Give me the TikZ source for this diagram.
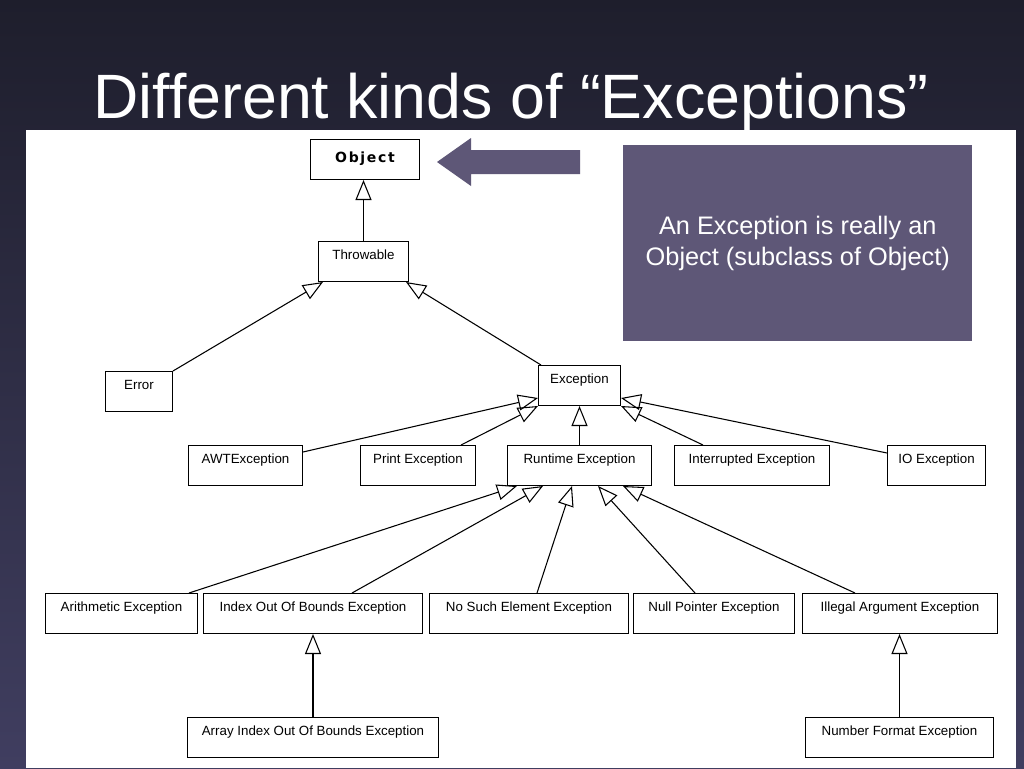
\documentclass[tikz,border=0pt]{standalone}
\usepackage{fontspec}
\setmainfont{Liberation Sans}
\newfontfamily\objfont[LetterSpace=12]{DejaVu Sans}
\usetikzlibrary{arrows.meta,calc}
\definecolor{bgtop}{HTML}{1E1E2C}
\definecolor{bgbot}{HTML}{403E60}
\definecolor{pcol}{HTML}{5E5777}
\begin{document}
\begin{tikzpicture}[x=0.75pt,y=-0.75pt,
  cls/.style={draw=black, line width=0.75pt, fill=white, inner xsep=0pt, inner ysep=0pt,
    text height=13.5pt, text depth=16.5pt, font=\fontsize{10pt}{12pt}\selectfont, anchor=north west},
  gen/.style={draw=black, line width=0.8pt, -{Triangle[open, length=15pt, width=12pt]}},
  note/.style={fill=pcol, text=white, align=center, anchor=north west, inner sep=0pt,
    font=\fontsize{19pt}{23pt}\selectfont},
  titlestyle/.style={anchor=base, text=white, font=\fontsize{47pt}{56pt}\selectfont}]
\useasboundingbox (0,0) rectangle (1024,768);
\shade[top color=bgtop, bottom color=bgbot] (0,0) rectangle (1024,768);
\fill[white] (26,130) rectangle (1016,768);

\node[titlestyle] (title) at (511,118) {Different kinds of “Exceptions”};

% classes
\node[cls, minimum width=109*0.75pt, text height=17.25pt, text depth=12.75pt,
  font=\objfont\bfseries\fontsize{10.5pt}{12pt}\selectfont] (obj) at (310,139) {Object};
\node[cls, minimum width=90*0.75pt] (thr) at (318,241) {Throwable};
\node[cls, minimum width=67*0.75pt] (err) at (105,371) {Error};
\node[cls, minimum width=82*0.75pt] (exc) at (538,365) {Exception};
\node[cls, minimum width=114*0.75pt] (awt) at (188,445) {AWTException};
\node[cls, minimum width=115*0.75pt] (prt) at (360,445) {Print Exception};
\node[cls, minimum width=144*0.75pt] (rte) at (507,445) {Runtime Exception};
\node[cls, minimum width=155*0.75pt] (int) at (674,445) {Interrupted Exception};
\node[cls, minimum width=98*0.75pt] (io) at (887,445) {IO Exception};
\node[cls, minimum width=152*0.75pt] (ari) at (45,593) {Arithmetic Exception};
\node[cls, minimum width=219*0.75pt] (iob) at (203,593) {Index Out Of Bounds Exception};
\node[cls, minimum width=199*0.75pt] (nse) at (429,593) {No Such Element Exception};
\node[cls, minimum width=161*0.75pt] (npe) at (633,593) {Null Pointer Exception};
\node[cls, minimum width=195*0.75pt] (iae) at (802,593) {Illegal Argument Exception};
\node[cls, minimum width=251*0.75pt] (aio) at (187,717) {Array Index Out Of Bounds Exception};
\node[cls, minimum width=188*0.75pt] (nfe) at (805,717) {Number Format Exception};

% note box and arrow
\node[note, minimum width=349*0.75pt, minimum height=196*0.75pt] (nt) at (623,145)
  {An Exception is really an\\Object (subclass of Object)};
\fill[pcol] (437,162) -- (471,138) -- (471,150) -- (580,150) -- (580,174)
  -- (471,174) -- (471,186) -- cycle;

% generalization connectors
\draw[gen] (thr.north) -- (thr.north |- obj.south);
\draw[gen] (err.north east) -- ($(thr.south west)+(5,0)$);
\draw[gen] ($(exc.north west)+(3,0)$) -- ($(thr.south east)+(-3,0)$);
\draw[gen] ($(awt.north east)+(0,7)$) -- ($(exc.south west)+(0,-8)$);
\draw[gen] ($(prt.north east)+(-15,0)$) -- (exc.south west);
\draw[gen] (rte.north) -- (rte.north |- exc.south);
\draw[gen] ($(int.north west)+(29,0)$) -- (exc.south east);
\draw[gen] ($(io.north west)+(0,8)$) -- ($(exc.south east)+(0,-8)$);
\draw[gen] ($(ari.north east)+(-9,0)$) -- ($(rte.south west)+(10,0)$);
\draw[gen] ($(iob.north west)+(149,0)$) -- ($(rte.south west)+(36,0)$);
\draw[gen] ($(nse.north west)+(108,0)$) -- ($(rte.south west)+(65,0)$);
\draw[gen] ($(npe.north west)+(62,0)$) -- ($(rte.south west)+(91,0)$);
\draw[gen] ($(iae.north west)+(53,0)$) -- ($(rte.south west)+(116,0)$);
\draw[gen] (aio.north) -- (aio.north |- iob.south);
\draw[gen] (nfe.north) -- (nfe.north |- iae.south);
\end{tikzpicture}
\end{document}
